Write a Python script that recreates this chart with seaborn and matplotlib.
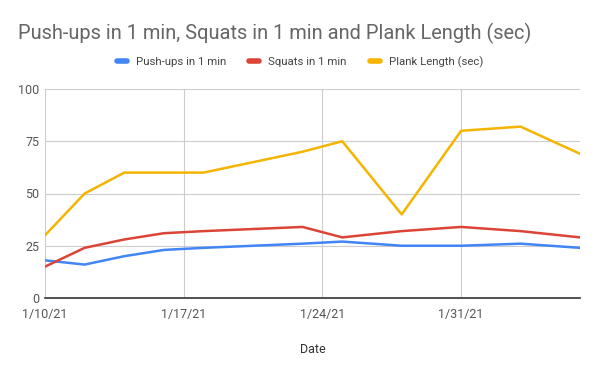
import matplotlib
matplotlib.use("Agg")
import matplotlib.pyplot as plt
import matplotlib.dates as mdates
import seaborn as sns
import pandas as pd

dates = ["2021-01-10", "2021-01-12", "2021-01-14", "2021-01-16", "2021-01-18",
         "2021-01-23", "2021-01-25", "2021-01-28", "2021-01-31", "2021-02-03", "2021-02-06"]
pushups = [18, 16, 20, 23, 24, 26, 27, 25, 25, 26, 24]
squats = [15, 24, 28, 31, 32, 34, 29, 32, 34, 32, 29]
plank = [30, 50, 60, 60, 60, 70, 75, 40, 80, 82, 69]
series_names = ["Push-ups in 1 min", "Squats in 1 min", "Plank Length (sec)"]
colors = ["#4285F4", "#DB4437", "#F4B400"]
yticks = [0, 25, 50, 75, 100]
xtick_dates = ["2021-01-10", "2021-01-17", "2021-01-24", "2021-01-31"]

df = pd.DataFrame({"Date": pd.to_datetime(dates),
                   series_names[0]: pushups,
                   series_names[1]: squats,
                   series_names[2]: plank})
long = df.melt(id_vars="Date", var_name="Series", value_name="Value")

sns.set_style("white")
plt.rcParams["font.family"] = ["Roboto", "DejaVu Sans"]

fig = plt.figure(figsize=(6.0, 3.71), dpi=100)
ax = fig.add_axes([45/600, 1 - 298/371, (580-45)/600, (298-89)/371])

sns.lineplot(data=long, x="Date", y="Value", hue="Series", palette=colors,
             hue_order=series_names, linewidth=1.8, ax=ax, legend=False)

ax.set_xlim(pd.Timestamp("2021-01-10"), pd.Timestamp("2021-02-06"))
ax.set_ylim(0, 100)
ax.set_yticks(yticks)
ax.set_xticks(pd.to_datetime(xtick_dates))
ax.xaxis.set_major_formatter(mdates.DateFormatter("%-m/%-d/%y"))
ax.grid(True, color="#cccccc", linewidth=0.8)
ax.set_axisbelow(True)
for s in ["left", "right", "top"]:
    ax.spines[s].set_visible(False)
ax.spines["bottom"].set_color("#333333")
ax.spines["bottom"].set_linewidth(1.2)
ax.tick_params(axis="y", length=0, labelsize=9, colors="#555555", pad=4)
ax.tick_params(axis="x", length=0, labelsize=9, colors="#555555", pad=7)
ax.set_xlabel("Date", fontsize=9, color="#333333", labelpad=16)
ax.set_ylabel("")

fig.text(18/600, 1 - 33/371, "Push-ups in 1 min, Squats in 1 min and Plank Length (sec)",
         fontsize=14.4, color="#666666", va="center", ha="left")

handles = [plt.Line2D([0], [0], color=c, linewidth=4) for c in colors]
fig.legend(handles, series_names, loc="center", bbox_to_anchor=(0.5, 1 - 62/371),
           ncol=3, frameon=False, fontsize=8.2, handlelength=0.9, columnspacing=2.0,
           handletextpad=0.8, labelcolor="#444444")

fig.savefig("out.png", dpi=100)
